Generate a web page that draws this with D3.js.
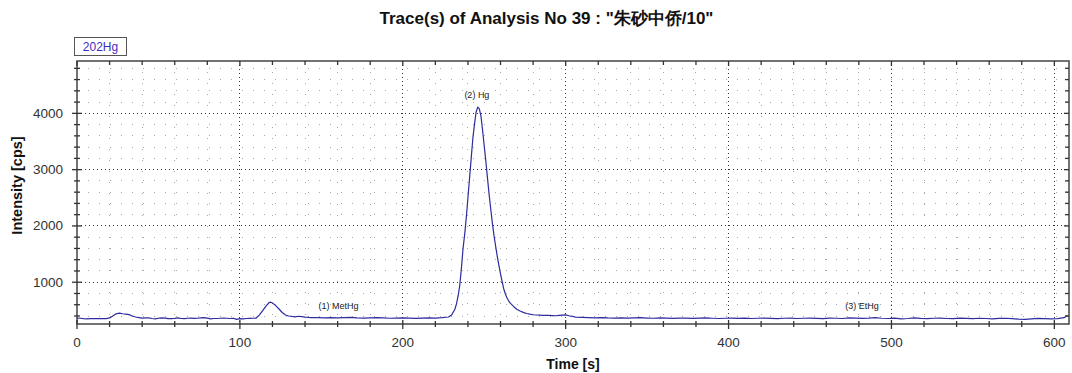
<!DOCTYPE html>
<html>
<head>
<meta charset="utf-8">
<script src="https://cdn.jsdelivr.net/npm/d3@7"></script>
<style>
  html, body { margin: 0; padding: 0; background: #fff; }
  svg { display: block; font-family: "Liberation Sans", Arial, sans-serif; }
</style>
</head>
<body>
<svg id="chart" width="1072" height="373"></svg>
<script>
// ---------------- data ----------------
const titleText = 'Trace(s) of Analysis No 39 : "朱砂中侨/10"';
const seriesName = "202Hg";
const xLabel = "Time [s]";
const yLabel = "Intensity [cps]";

const xTicks = [0, 100, 200, 300, 400, 500, 600];
const yTicks = [1000, 2000, 3000, 4000];

const peakLabels = ["(1) MetHg", "(2) Hg", "(3) EtHg"];
const peakLabelTimes = [160.5, 245.5, 482];
const peakLabelValues = [570, 4320, 570];

const times = [
  0,2,4,6,8,10,12,14,16,18,20,22,24,26,28,30,32,34,36,38,40,42,44,46,48,50,52,54,56,58,
  60,62,64,66,68,70,72,74,76,78,80,82,84,86,88,90,92,94,96,98,100,102,104,106,108,110,
  112,114,116,118,119,120,122,124,126,128,130,132,134,136,138,140,142,144,
  148,152,156,160,164,168,172,176,180,184,188,192,196,200,204,208,212,216,220,224,228,
  230,232,233,234,235,236,237,238,239,240,241,242,243,244,245,246,247,248,249,250,
  251,252,253,254,255,256,257,258,259,260,261,262,263,264,265,266,268,270,272,274,
  276,278,280,282,284,286,288,290,292,294,296,298,300,302,304,306,
  310,314,318,322,326,330,334,338,342,346,350,354,358,362,366,370,374,378,382,386,
  390,394,398,402,406,410,414,418,422,426,430,434,438,442,446,450,454,458,462,466,
  470,474,478,482,486,490,494,498,502,506,510,514,518,522,526,530,534,538,542,546,
  550,554,558,562,566,570,574,578,582,586,590,594,598,602,606,608
];
const intensity = [
  362,360,352,350,352,354,356,355,354,352,366,400,438,452,440,432,425,400,382,372,362,366,368,356,350,360,368,362,352,354,
  358,366,356,352,360,364,358,360,368,372,362,350,356,356,360,362,360,356,360,340,352,350,356,358,360,364,
  420,495,575,640,645,632,585,525,462,418,400,392,386,396,388,380,374,370,
  372,368,372,366,370,375,368,364,368,372,366,360,364,366,362,358,364,368,362,370,382,
  420,520,620,760,950,1250,1600,1850,2150,2500,2850,3200,3550,3800,4020,4110,4080,3950,3700,3420,
  3150,2850,2560,2300,2050,1830,1640,1460,1300,1150,1010,880,790,720,670,630,570,520,490,465,
  445,432,422,418,415,412,410,412,408,405,410,415,420,405,395,380,
  374,370,368,372,366,364,368,362,366,370,364,360,366,362,358,364,362,358,362,366,
  360,356,360,362,358,362,356,360,364,358,354,360,362,356,360,364,358,354,362,360,
  356,368,364,358,362,370,360,356,362,348,356,368,358,352,360,364,356,352,362,358,
  354,360,356,350,358,360,354,344,340,350,358,352,348,355,370,410
];

// ---------------- layout ----------------
const svg = d3.select("#chart");
const L = 77, R = 1069, T = 61, B = 324;
const x = d3.scaleLinear().domain([0, 609]).range([L, R]);
const y = d3.scaleLinear().domain([258, 4930]).range([B, T]);

const xMinor = d3.range(0, 609, 20);
const yMinor = d3.range(400, 4930, 200);

// grid: minor dotted lines
const grid = svg.append("g");
grid.selectAll("line.hmin").data(yMinor.filter(v => v % 1000 !== 0)).join("line")
  .attr("x1", L).attr("x2", R).attr("y1", d => y(d)).attr("y2", d => y(d))
  .attr("stroke", "#a8a8a8").attr("stroke-width", 1).attr("stroke-dasharray", "1,10")
  .attr("shape-rendering", "crispEdges");
grid.selectAll("line.vmin").data(xMinor.filter(v => v % 100 !== 0)).join("line")
  .attr("y1", T).attr("y2", B).attr("x1", d => x(d)).attr("x2", d => x(d))
  .attr("stroke", "#a8a8a8").attr("stroke-width", 1).attr("stroke-dasharray", "1,10")
  .attr("shape-rendering", "crispEdges");
// major dotted
grid.selectAll("line.hmaj").data(yTicks).join("line")
  .attr("x1", L).attr("x2", R).attr("y1", d => y(d)).attr("y2", d => y(d))
  .attr("stroke", "#333").attr("stroke-width", 1).attr("stroke-dasharray", "1,3")
  .attr("shape-rendering", "crispEdges");
grid.selectAll("line.vmaj").data(xTicks.filter(v => v > 0)).join("line")
  .attr("y1", T).attr("y2", B).attr("x1", d => x(d)).attr("x2", d => x(d))
  .attr("stroke", "#333").attr("stroke-width", 1).attr("stroke-dasharray", "1,3")
  .attr("shape-rendering", "crispEdges");

// trace
const pts = times.map((t, i) => [t, intensity[i]]);
svg.append("path")
  .datum(pts)
  .attr("fill", "none")
  .attr("stroke", "#2c2ca0")
  .attr("stroke-width", 1.2)
  .attr("stroke-linejoin", "round")
  .attr("d", d3.line().x(d => x(d[0])).y(d => y(d[1])));

// frame
svg.append("rect").attr("x", L).attr("y", T).attr("width", R - L).attr("height", B - T)
  .attr("fill", "none").attr("stroke", "#444").attr("stroke-width", 1.5);

// ticks
const axc = "#333";
const tk = svg.append("g").attr("stroke", axc).attr("stroke-width", 1.3);
xMinor.forEach(v => {
  const maj = v % 100 === 0;
  tk.append("line").attr("x1", x(v)).attr("x2", x(v)).attr("y1", B - (maj ? 4 : 3)).attr("y2", B + (maj ? 5 : 3));
  tk.append("line").attr("x1", x(v)).attr("x2", x(v)).attr("y1", T).attr("y2", T + (maj ? 5 : 4));
});
yMinor.forEach(v => {
  const maj = v % 1000 === 0;
  tk.append("line").attr("y1", y(v)).attr("y2", y(v)).attr("x1", L - (maj ? 5 : 3)).attr("x2", L + (maj ? 5 : 3));
  tk.append("line").attr("y1", y(v)).attr("y2", y(v)).attr("x1", R).attr("x2", R - (maj ? 5 : 4));
});

// tick labels
svg.append("g").selectAll("text").data(xTicks).join("text")
  .attr("x", d => x(d)).attr("y", 347).attr("text-anchor", "middle")
  .attr("font-size", 13.5).attr("fill", "#333").text(d => d);
svg.append("g").selectAll("text").data(yTicks).join("text")
  .attr("x", 63).attr("y", d => y(d) + 4.5).attr("text-anchor", "end")
  .attr("font-size", 13.5).attr("fill", "#333").text(d => d);

// axis titles
svg.append("text").attr("x", (L + R) / 2).attr("y", 369).attr("text-anchor", "middle")
  .attr("font-size", 14).attr("font-weight", "bold").attr("fill", "#111").text(xLabel);
svg.append("text").attr("transform", `translate(21.5,${(T + B) / 2 - 7}) rotate(-90)`)
  .attr("text-anchor", "middle").attr("font-size", 14.5).attr("font-weight", "bold")
  .attr("fill", "#111").text(yLabel);

// title
svg.append("text").attr("x", 546.5).attr("y", 24).attr("text-anchor", "middle")
  .attr("font-size", 17).attr("font-weight", "bold").attr("fill", "#111")
  .text(titleText);

// legend box
svg.append("rect").attr("x", 74.5).attr("y", 37.5).attr("width", 52).attr("height", 18)
  .attr("fill", "#fff").attr("stroke", "#555").attr("stroke-width", 1);
svg.append("text").attr("x", 100.5).attr("y", 51).attr("text-anchor", "middle")
  .attr("font-size", 12).attr("fill", "#3c2fc0").text(seriesName);

// peak annotations
svg.append("g").selectAll("text").data(peakLabels).join("text")
  .attr("x", (d, i) => x(peakLabelTimes[i])).attr("y", (d, i) => y(peakLabelValues[i]) + 3)
  .attr("text-anchor", "middle").attr("font-size", 9).attr("fill", "#222").text(d => d);
</script>
</body>
</html>
